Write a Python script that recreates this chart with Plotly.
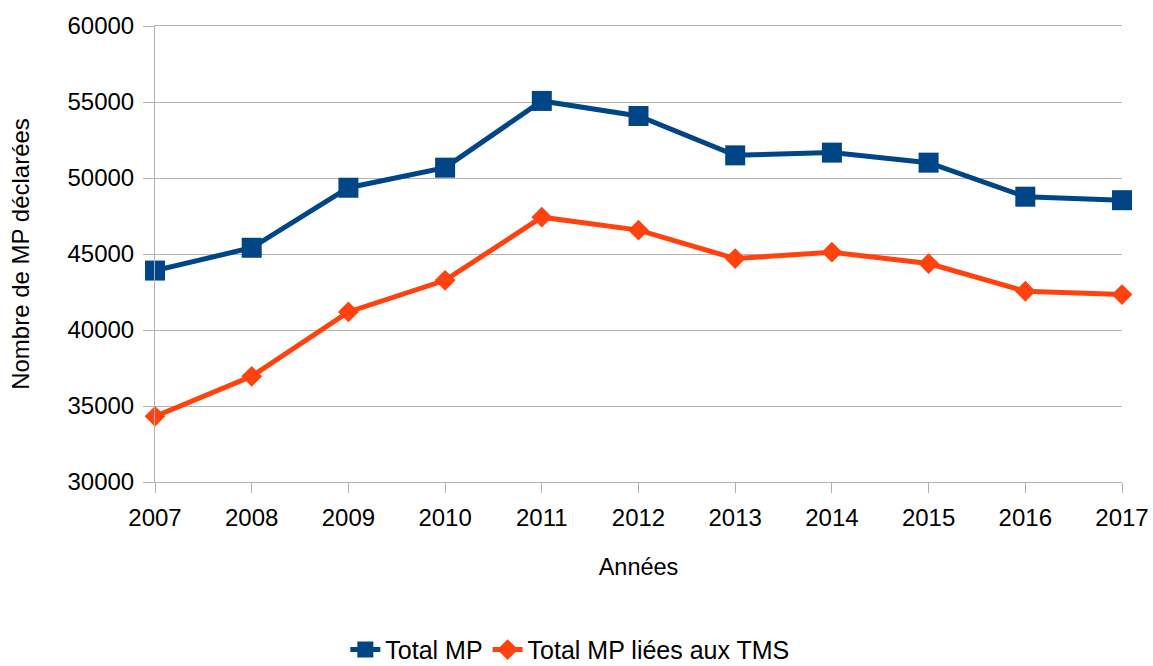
import plotly.graph_objects as go

years = ["2007", "2008", "2009", "2010", "2011", "2012", "2013", "2014", "2015", "2016", "2017"]
total_mp = [43910, 45410, 49360, 50680, 55070, 54080, 51490, 51670, 51010, 48770, 48540]
total_tms = [34320, 36950, 41190, 43270, 47420, 46570, 44700, 45120, 44370, 42550, 42330]
y_ticks = [30000, 35000, 40000, 45000, 50000, 55000, 60000]

FONT = "Liberation Sans, Arial, sans-serif"
GRID = "#b3b3b3"

fig = go.Figure()
fig.add_trace(go.Scatter(
    x=years, y=total_mp, name="Total MP", mode="lines+markers",
    line=dict(color="#004586", width=5),
    marker=dict(symbol="square", size=20, color="#004586"),
    cliponaxis=False,
))
fig.add_trace(go.Scatter(
    x=years, y=total_tms, name="Total MP liées aux TMS", mode="lines+markers",
    line=dict(color="#ff420e", width=5),
    marker=dict(symbol="diamond", size=16, color="#ff420e"),
    cliponaxis=False,
))

fig.update_layout(
    width=1153, height=666,
    margin=dict(l=155, r=31, t=26, b=184, autoexpand=False),
    paper_bgcolor="white", plot_bgcolor="white",
    font=dict(family=FONT, size=24, color="black"),
    showlegend=True,
    legend=dict(orientation="h", x=0.429, xanchor="center", y=-0.368, yanchor="middle",
                font=dict(size=25)),
    xaxis=dict(
        type="category", range=[0, 10], automargin=False,
        showline=True, linecolor=GRID, linewidth=1, mirror=True,
        showgrid=False, ticks="outside", ticklen=10, tickcolor=GRID,
        tickfont=dict(size=24), ticklabelstandoff=4,
        title=dict(text="Années", font=dict(size=23.5), standoff=28),
        zeroline=False,
    ),
    yaxis=dict(
        range=[30000, 60000], tickvals=y_ticks, tickformat="d", automargin=False,
        showline=True, linecolor=GRID, linewidth=1,
        showgrid=True, gridcolor=GRID, gridwidth=1,
        ticks="outside", ticklen=11, tickcolor=GRID,
        tickfont=dict(size=24), ticklabelstandoff=4,
        title=dict(text="Nombre de MP déclarées", font=dict(size=24), standoff=31),
        zeroline=False,
    ),
)

fig.write_html(
    "out.html",
    config={"displayModeBar": False},
    post_script="document.body.style.margin='0';document.body.style.overflow='hidden';",
)
